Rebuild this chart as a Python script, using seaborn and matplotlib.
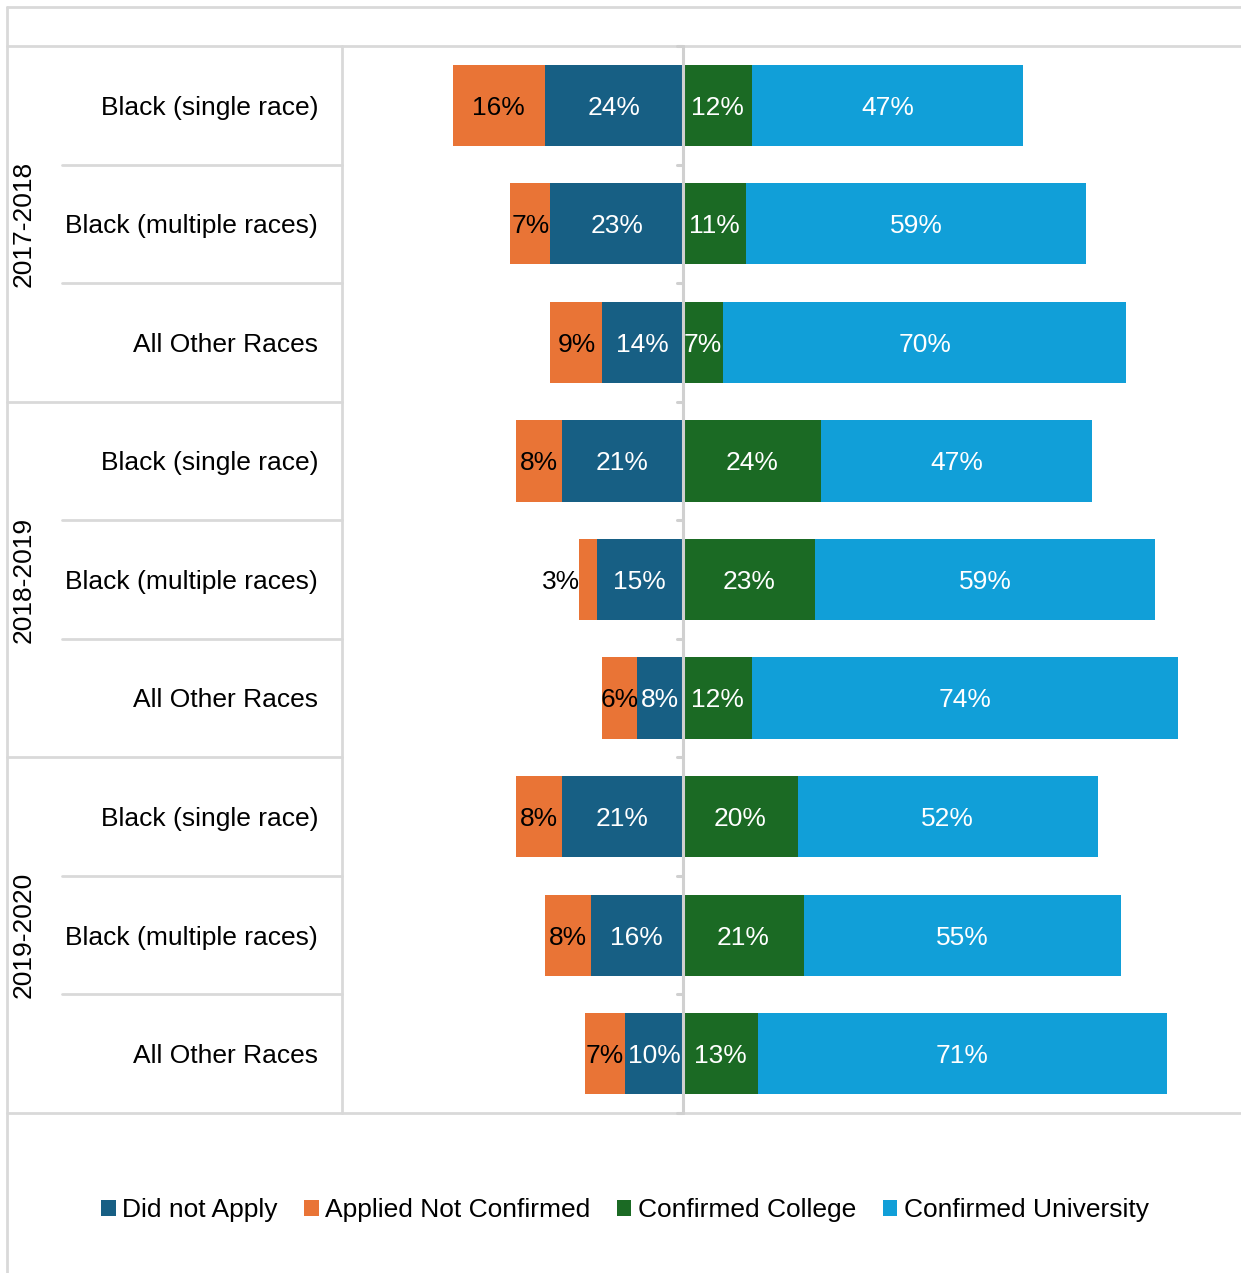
import matplotlib
matplotlib.use("Agg")
import matplotlib.pyplot as plt
import matplotlib.transforms as mtransforms
from matplotlib.lines import Line2D
from matplotlib.patches import Patch
import seaborn as sns
import pandas as pd

sns.set_theme(style="white")
plt.rcParams['font.family'] = ['Liberation Sans', 'DejaVu Sans']
plt.rcParams['text.color'] = 'black'

years = ["2017-2018", "2018-2019", "2019-2020"]
groups = ["Black (single race)", "Black (multiple races)", "All Other Races"]
did_not_apply = [24, 23, 14, 21, 15, 8, 21, 16, 10]
applied_not_confirmed = [16, 7, 9, 8, 3, 6, 8, 8, 7]
confirmed_college = [12, 11, 7, 24, 23, 12, 20, 21, 13]
confirmed_university = [47, 59, 70, 47, 59, 74, 52, 55, 71]

series_names = ["Did not Apply", "Applied Not Confirmed", "Confirmed College", "Confirmed University"]
colors = {"Did not Apply": "#175F84", "Applied Not Confirmed": "#E97436",
          "Confirmed College": "#1B6A24", "Confirmed University": "#119FD8"}

rows = [f"r{i}" for i in range(9)]
df = pd.DataFrame({
    "row": rows,
    "dna": did_not_apply,
    "anc": applied_not_confirmed,
    "cc": confirmed_college,
    "cu": confirmed_university,
})
df["left_total"] = -(df["dna"] + df["anc"])
df["left_dna"] = -df["dna"]
df["right_total"] = df["cc"] + df["cu"]
df["right_cc"] = df["cc"]

W, H = 1241, 1273
fig = plt.figure(figsize=(W / 100, H / 100), dpi=100)
ax_l, ax_r, ax_t, ax_b = 342, 1241, 46, 1113
ax = fig.add_axes([ax_l / W, 1 - ax_b / H, (ax_r - ax_l) / W, (ax_b - ax_t) / H])

bw = 0.685
kw = dict(y="row", order=rows, orient="h", width=bw, saturation=1, linewidth=0, ax=ax)
sns.barplot(data=df, x="left_total", color=colors["Applied Not Confirmed"], **kw)
sns.barplot(data=df, x="left_dna", color=colors["Did not Apply"], **kw)
sns.barplot(data=df, x="right_total", color=colors["Confirmed University"], **kw)
sns.barplot(data=df, x="right_cc", color=colors["Confirmed College"], **kw)

ax.set_xlim(-59.2, 96.9)
ax.set_ylim(8.5, -0.5)
ax.set_xlabel("")
ax.set_ylabel("")
ax.set_xticks([])
ax.set_yticks([])
for s in ax.spines.values():
    s.set_visible(False)

fs = 19
dy = 0.02
# bar labels
for i in range(9):
    dna, anc, cc, cu = did_not_apply[i], applied_not_confirmed[i], confirmed_college[i], confirmed_university[i]
    yy = i + dy
    ax.text(-dna / 2, yy, f"{dna}%", ha="center", va="center", color="white", fontsize=fs)
    if anc >= 5:
        ax.text(-dna - anc / 2, yy, f"{anc}%", ha="center", va="center", color="black", fontsize=fs)
    else:
        ax.text(-dna - anc + 0.2, yy, f"{anc}%", ha="right", va="center", color="black", fontsize=fs)
    ax.text(cc / 2, yy, f"{cc}%", ha="center", va="center", color="white", fontsize=fs)
    ax.text(cc + cu / 2, yy, f"{cu}%", ha="center", va="center", color="white", fontsize=fs)

grid_c = "#D9D9D9"
# center axis line with ticks
ax.plot([0, 0], [-0.5, 8.5], color="#D0D0D0", lw=2.2, clip_on=False, zorder=5)
for b in range(10):
    ax.plot([-1.1, 0], [b - 0.5, b - 0.5], color="#D0D0D0", lw=2.2, clip_on=False, zorder=5)

# label table
bt = mtransforms.blended_transform_factory(fig.transFigure, ax.transData)
def fx(px):
    return px / W

for i in range(9):
    ax.text(fx(318), i + dy, groups[i % 3], transform=bt, ha="right", va="center", fontsize=fs, color="black")
for g, yr in enumerate(years):
    ax.text(fx(24), g * 3 + 1, yr, transform=bt, ha="center", va="center", rotation=90, fontsize=fs, color="black")

for b in range(10):
    yb = b - 0.5
    if b in (0, 9):
        x0, x1 = fx(7), 1.0
    elif b % 3 == 0:
        x0, x1 = fx(7), fx(342)
    else:
        x0, x1 = fx(62), fx(342)
    ax.plot([x0, x1], [yb, yb], transform=bt, color=grid_c, lw=2, clip_on=False)
ax.plot([fx(342), fx(342)], [-0.5, 8.5], transform=bt, color=grid_c, lw=2, clip_on=False)

# outer border
fig.add_artist(Line2D([fx(7), 1.0], [1 - 7 / H, 1 - 7 / H], transform=fig.transFigure, color=grid_c, lw=2))
fig.add_artist(Line2D([fx(7), fx(7)], [0, 1 - 7 / H], transform=fig.transFigure, color=grid_c, lw=2))

# legend
handles = [Patch(facecolor=colors[n], edgecolor="none", label=n) for n in series_names]
leg = fig.legend(handles=handles, loc="center", bbox_to_anchor=(625 / W, 1 - 1210 / H), ncol=4,
                 frameon=False, fontsize=fs, handlelength=0.55, handleheight=0.55,
                 handletextpad=0.25, columnspacing=1.0, borderaxespad=0)
for t in leg.get_texts():
    t.set_color("black")

fig.savefig("out.png", dpi=100)
